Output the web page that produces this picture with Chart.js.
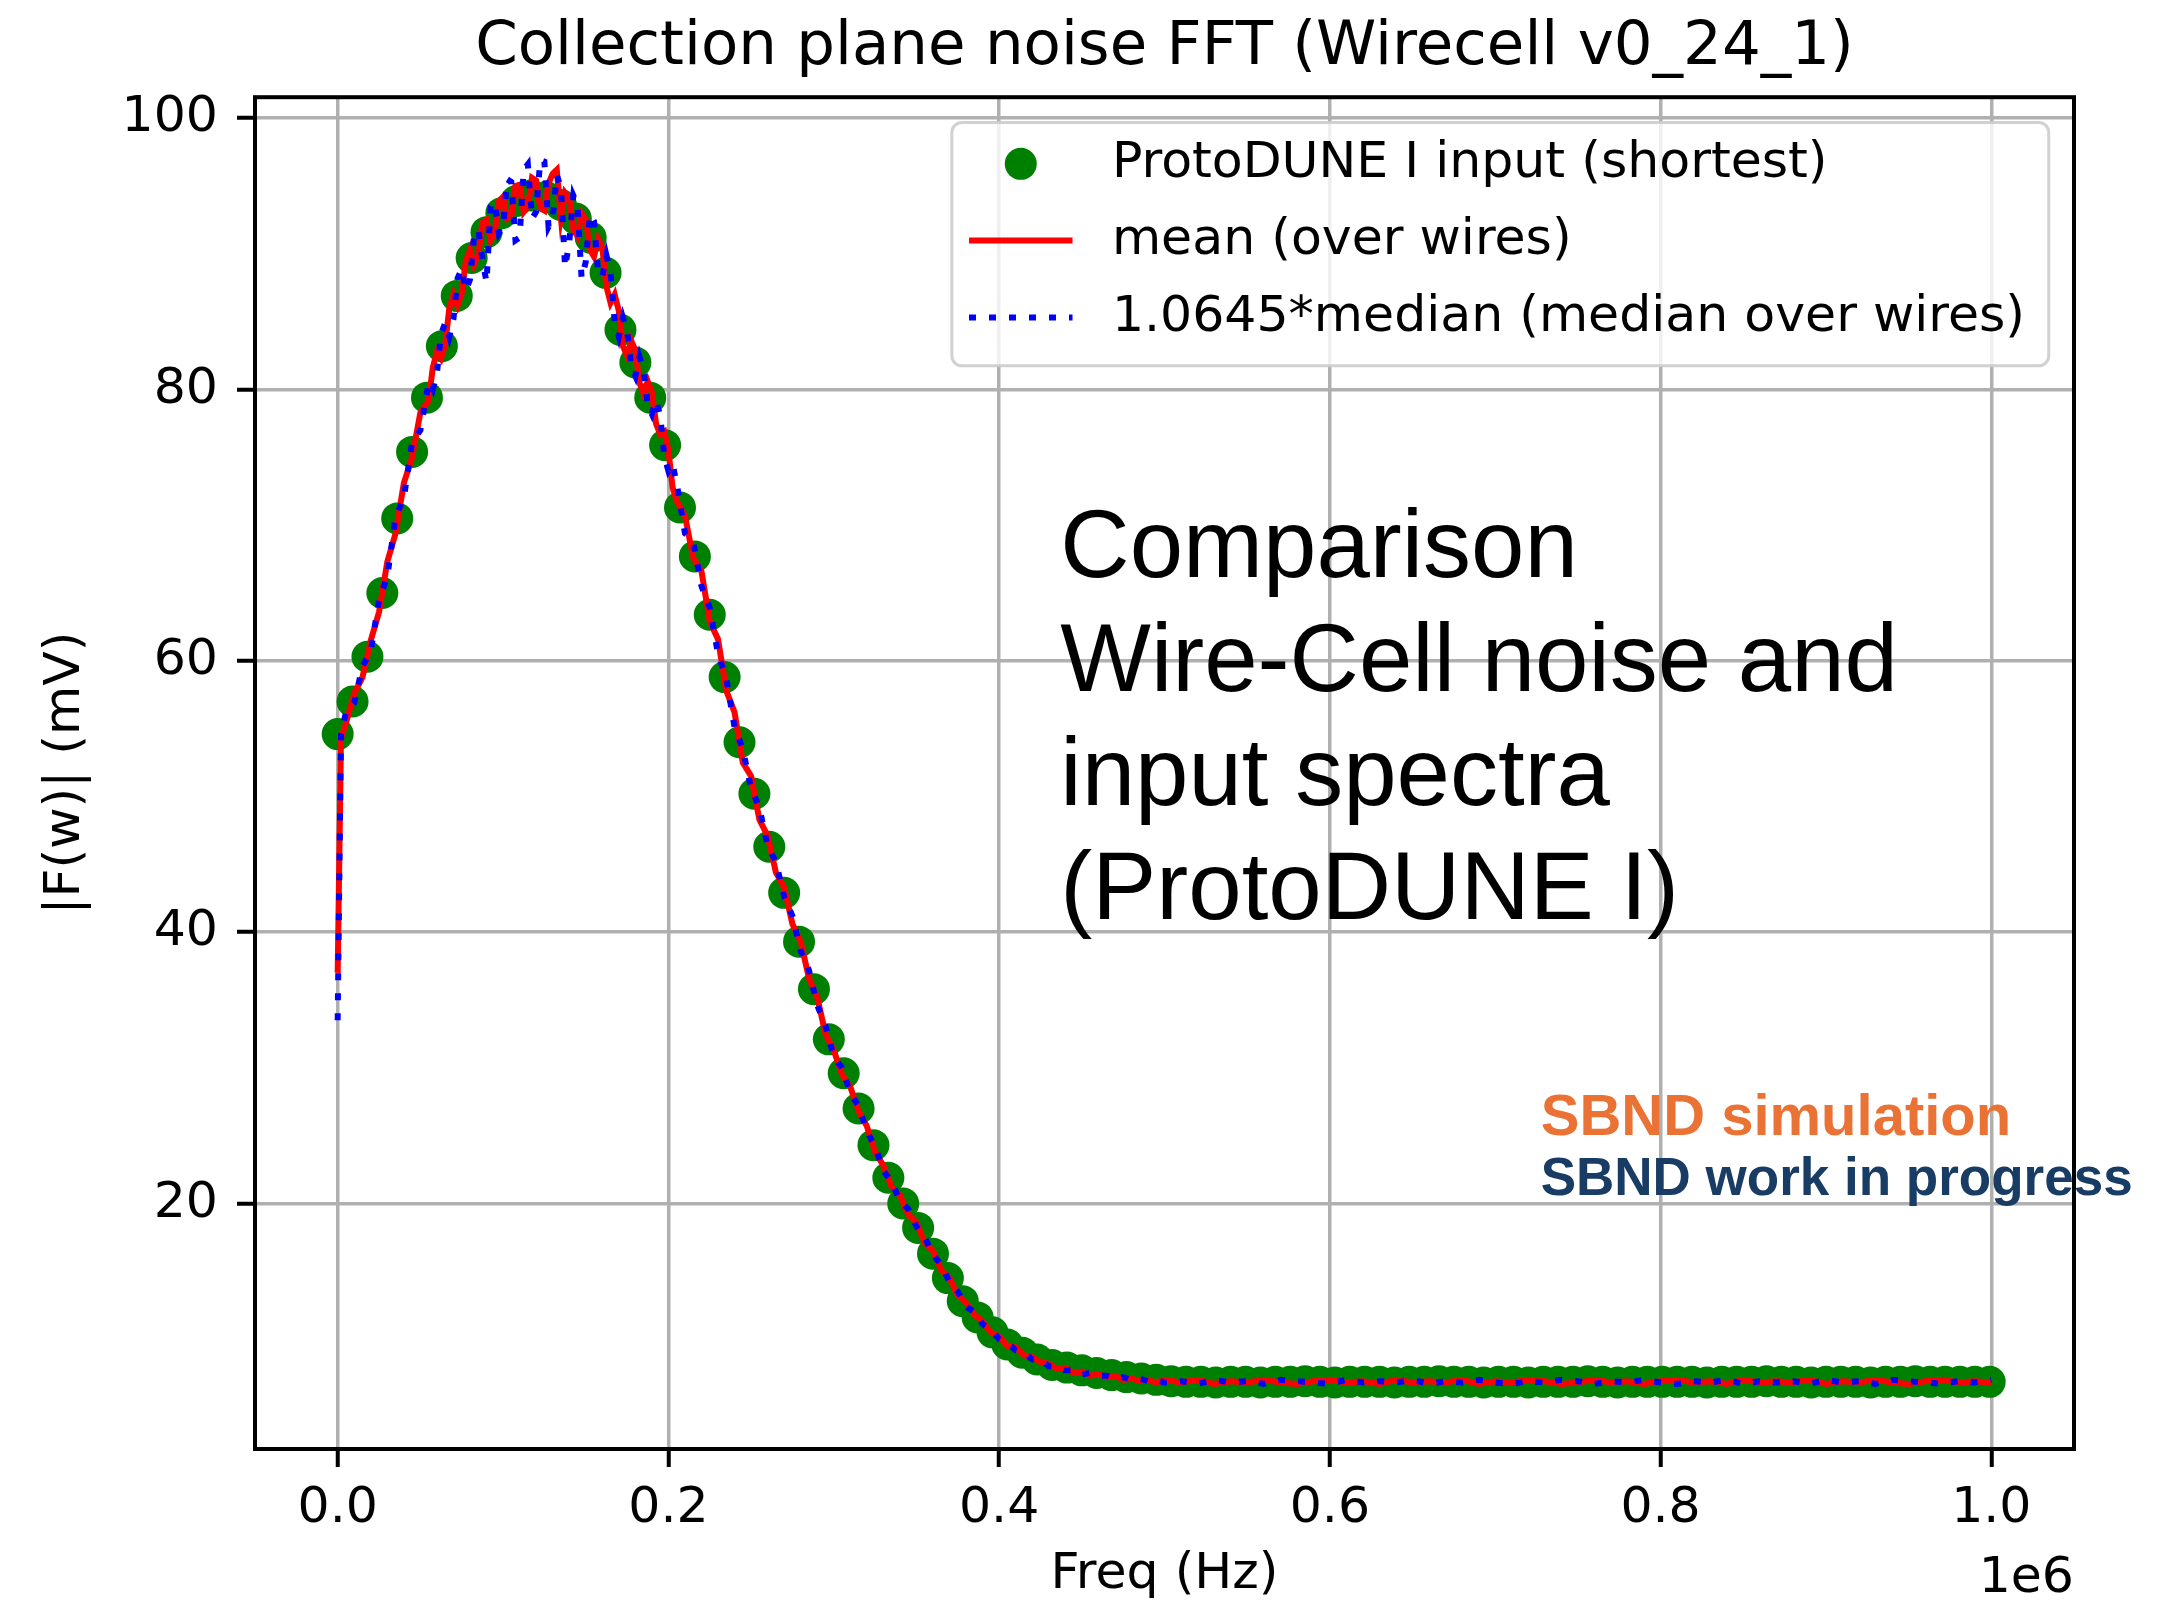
<!DOCTYPE html>
<html lang="en">

<head>
    <meta charset="UTF-8">
    <title>Collection plane noise FFT</title>
    <script src="https://cdn.jsdelivr.net/npm/chart.js"></script>
    <style>
        body {
            margin: 0;
            background: #fff;
        }

        canvas {
            display: block;
        }
    </style>
</head>

<body>
    <canvas id="fftChart" width="2182" height="1605"></canvas>
    <script>
        // Frequencies are in kHz, amplitudes in mV
        const inputFreq = [
            0, 9, 18, 27, 36, 45, 54, 63, 72, 81,
            90, 99, 108, 117, 126, 135, 144, 153, 162, 171,
            180, 189, 198, 207, 216, 225, 234, 243, 252, 261,
            270, 279, 288, 297, 306, 315, 324, 333, 342, 351,
            360, 369, 378, 387, 396, 405, 414, 423, 432, 441,
            450, 459, 468, 477, 486, 495, 504, 513, 522, 531,
            540, 549, 558, 567, 576, 585, 594, 603, 612, 621,
            630, 639, 648, 657, 666, 675, 684, 693, 702, 711,
            720, 729, 738, 747, 756, 765, 774, 783, 792, 801,
            810, 819, 828, 837, 846, 855, 864, 873, 882, 891,
            900, 909, 918, 927, 936, 945, 954, 963, 972, 981,
            990, 999
        ];
        const inputAmp = [
            54.6, 57.0, 60.3, 65.0, 70.5, 75.4, 79.4, 83.2, 86.9, 89.7,
            91.6, 93.0, 93.9, 94.3, 94.2, 93.6, 92.6, 91.2, 88.6, 84.4,
            82.0, 79.4, 75.9, 71.3, 67.7, 63.4, 58.8, 54.0, 50.2, 46.3,
            42.9, 39.3, 35.8, 32.1, 29.6, 27.0, 24.3, 21.9, 20.0, 18.2,
            16.3, 14.5, 12.8, 11.6, 10.5, 9.6, 9.0, 8.5, 8.1, 7.9,
            7.7, 7.5, 7.35, 7.2, 7.1, 7.0, 6.9, 6.85, 6.85, 6.8,
            6.85, 6.85, 6.8, 6.85, 6.85, 6.9, 6.85, 6.8, 6.85, 6.85,
            6.85, 6.8, 6.85, 6.85, 6.9, 6.85, 6.85, 6.8, 6.85, 6.85,
            6.8, 6.85, 6.85, 6.85, 6.9, 6.85, 6.8, 6.85, 6.85, 6.85,
            6.85, 6.85, 6.8, 6.85, 6.85, 6.85, 6.9, 6.85, 6.85, 6.8,
            6.85, 6.85, 6.85, 6.8, 6.85, 6.85, 6.9, 6.85, 6.85, 6.85,
            6.85, 6.85
        ];

        const wireFreq = [
            0, 2, 5, 10, 15, 20, 25, 30, 35, 40, 45, 50,
            55, 57.5, 60, 62.5, 65, 67.5, 70, 72.5, 75, 77.5,
            80, 82.5, 85, 87.5, 90, 92.5, 95, 97.5, 100, 102.5,
            105, 107.5, 110, 112.5, 115, 117.5, 120, 122.5, 125, 127.5,
            130, 132.5, 135, 137.5, 140, 142.5, 145, 147.5, 150, 152.5,
            155, 157.5, 160, 162.5, 165, 167.5, 170, 172.5, 175, 177.5,
            180, 182.5, 185, 187.5, 190, 192.5, 195, 197.5, 200, 202.5,
            205,
            210, 215, 220, 225, 230, 235, 240, 245, 250,
            255, 260, 265, 270, 275, 280, 285, 290, 295, 300,
            305, 310, 315, 320, 325, 330, 335, 340, 345, 350,
            355, 360, 365, 370, 375, 380, 385, 390, 395, 400,
            405, 410, 415, 420, 425, 430, 435, 440, 445, 450,
            455, 460, 465, 470, 475, 480, 485, 490, 495, 500,
            510, 520, 530, 540, 550, 560, 570, 580, 590, 600,
            610, 620, 630, 640, 650, 660, 670, 680, 690, 700,
            710, 720, 730, 740, 750, 760, 770, 780, 790, 800,
            810, 820, 830, 840, 850, 860, 870, 880, 890, 900,
            910, 920, 930, 940, 950, 960, 970, 980, 990, 1000
        ];
        const meanAmp = [
            37.0, 54.3, 55.4, 57.6, 58.8, 61.5, 63.6, 67.3, 69.4, 73.1, 75.0, 78.3,
            79.2, 81.6, 82.8, 82.3, 83.3, 86.0, 87.0, 86.2, 87.1, 89.5,
            90.3, 89.2, 89.9, 92.3, 92.5, 91.0, 91.6, 93.9, 94.2, 92.6,
            92.8, 95.0, 95.1, 93.1, 93.5, 95.6, 95.4, 93.4, 93.2, 95.2,
            95.9, 96.2, 92.7, 94.5, 94.1, 91.8, 91.3, 93.0, 92.6, 90.3,
            89.8, 91.1, 90.5, 87.6, 86.4, 87.0, 85.8, 83.2, 82.5, 83.6,
            82.9, 80.5, 79.7, 80.6, 79.8, 77.5, 76.7, 76.9, 75.5, 72.8,
            71.8,
            70.7, 67.6, 66.6, 62.9, 61.6, 57.8, 56.2, 52.5, 51.5,
            48.3, 47.1, 44.4, 43.3, 40.6, 39.3, 36.6, 35.2, 32.5, 31.3,
            29.5, 28.6, 26.8, 25.7, 23.8, 22.8, 21.2, 20.6, 19.2, 18.6,
            17.1, 16.5, 15.1, 14.5, 13.2, 12.7, 11.8, 11.3, 10.5, 10.2,
            9.5, 9.4, 8.8, 8.7, 8.3, 8.2, 7.8, 7.9, 7.5, 7.6,
            7.3, 7.4, 7.2, 7.3, 7.0, 7.1, 6.9, 7.0, 6.8, 7.0,
            6.8, 7.0, 6.7, 6.9, 6.8, 7.0, 6.8, 6.7, 6.9, 7.0,
            6.8, 6.9, 6.7, 7.0, 6.8, 6.9, 6.8, 7.0, 6.7, 6.9,
            6.8, 7.0, 6.9, 6.7, 6.8, 7.0, 6.8, 6.9, 6.7, 6.9,
            7.0, 6.8, 6.9, 6.7, 7.0, 6.8, 6.9, 6.8, 7.0, 6.7,
            6.9, 6.8, 7.0, 6.8, 6.7, 6.9, 7.0, 6.8, 6.9, 6.8
        ];
        const medianAmp = [
            33.5, 54.6, 56.2, 56.9, 59.6, 60.7, 64.5, 66.2, 70.6, 72.0, 76.1, 77.0,
            80.5, 80.0, 81.2, 84.1, 84.9, 83.9, 85.2, 88.2, 88.9, 87.3,
            88.1, 91.3, 91.8, 89.6, 87.9, 93.5, 93.8, 91.5, 92.0, 95.5,
            95.3, 91.0, 91.2, 96.2, 96.6, 92.6, 93.1, 96.9, 96.8, 92.0,
            92.6, 95.8, 94.9, 89.0, 90.8, 94.3, 93.6, 88.2, 89.4, 92.9,
            92.4, 88.6, 88.3, 89.9, 88.6, 85.0, 83.9, 85.3, 84.3, 81.7,
            81.0, 82.4, 81.4, 78.9, 78.2, 79.2, 78.1, 75.1, 74.0, 74.5,
            73.1,
            69.4, 68.8, 65.5, 63.9, 60.5, 58.7, 55.1, 53.5, 50.6,
            49.2, 46.3, 45.2, 42.6, 41.2, 38.6, 37.2, 34.6, 33.1, 30.8,
            30.0, 28.1, 27.2, 25.3, 24.2, 22.4, 21.6, 20.2, 19.6, 18.3,
            17.5, 16.2, 15.5, 14.2, 13.5, 12.4, 12.0, 11.1, 10.7, 10.0,
            9.7, 9.2, 9.0, 8.5, 8.5, 8.0, 8.0, 7.7, 7.7, 7.4,
            7.5, 7.3, 7.3, 7.1, 7.2, 7.0, 7.1, 6.9, 7.0, 6.8,
            6.9, 6.7, 7.0, 6.8, 6.9, 6.7, 7.0, 6.9, 6.8, 6.7,
            7.0, 6.8, 6.9, 6.8, 7.0, 6.7, 6.9, 6.8, 7.0, 6.8,
            6.7, 6.9, 6.8, 7.0, 6.9, 6.7, 6.9, 6.8, 7.0, 6.8,
            6.7, 6.9, 6.8, 7.0, 6.7, 6.9, 6.8, 6.9, 6.7, 7.0,
            6.8, 6.9, 6.7, 7.0, 6.9, 6.8, 6.7, 6.9, 6.8, 7.0
        ];

        const xTicks = [0, 200000, 400000, 600000, 800000, 1000000];
        const yTicks = [20, 40, 60, 80, 100];

        const legendLabels = [
            'ProtoDUNE I input (shortest)',
            'mean (over wires)',
            '1.0645*median (median over wires)'
        ];
        const noteLines = ['Comparison', 'Wire-Cell noise and', 'input spectra', '(ProtoDUNE I)'];

        const FONT = '"DejaVu Sans"';
        const LABEL_PX = 50.5;

        const toPoints = (freqs, amps) => freqs.map((f, i) => ({ x: f * 1000, y: amps[i] }));

        // frame, offset text, legend and the notes on top of the plot
        const overlay = {
            id: 'overlay',
            afterDraw(chart) {
                const { ctx, chartArea: ca, scales } = chart;
                const sets = chart.data.datasets;
                const f = LABEL_PX;
                ctx.save();

                ctx.strokeStyle = '#000';
                ctx.lineWidth = 4;
                ctx.strokeRect(ca.left, ca.top, ca.right - ca.left, ca.bottom - ca.top);

                ctx.fillStyle = '#000';
                ctx.font = `${f}px ${FONT}`;
                ctx.textAlign = 'right';
                ctx.textBaseline = 'alphabetic';
                ctx.fillText('1e6', ca.right, ca.bottom + 143);

                // legend, upper right
                ctx.textAlign = 'left';
                ctx.textBaseline = 'middle';
                const textW = Math.max(...legendLabels.map(t => ctx.measureText(t).width));
                const boxW = 0.34 * f + 2.05 * f + 0.78 * f + textW + 0.47 * f;
                const boxH = 4.82 * f;
                const bx = ca.right - 0.5 * f - boxW;
                const by = ca.top + 0.5 * f;
                ctx.beginPath();
                ctx.roundRect(bx, by, boxW, boxH, 0.2 * f);
                ctx.fillStyle = 'rgba(255,255,255,0.8)';
                ctx.fill();
                ctx.strokeStyle = 'rgba(204,204,204,0.9)';
                ctx.lineWidth = 3;
                ctx.stroke();

                const hx0 = bx + 0.34 * f;
                const hx1 = hx0 + 2.05 * f;
                legendLabels.forEach((label, i) => {
                    const cy = by + 0.82 * f + i * 1.52 * f;
                    const ds = sets[i];
                    if (i === 0) {
                        ctx.fillStyle = ds.backgroundColor;
                        ctx.beginPath();
                        ctx.arc((hx0 + hx1) / 2, cy, ds.pointRadius, 0, Math.PI * 2);
                        ctx.fill();
                    } else {
                        ctx.strokeStyle = ds.borderColor;
                        ctx.lineWidth = ds.borderWidth;
                        ctx.setLineDash(ds.borderDash || []);
                        ctx.beginPath();
                        ctx.moveTo(hx0, cy);
                        ctx.lineTo(hx1, cy);
                        ctx.stroke();
                        ctx.setLineDash([]);
                    }
                    ctx.fillStyle = '#000';
                    ctx.fillText(label, hx1 + 0.78 * f, cy);
                });

                // comparison note
                ctx.textBaseline = 'alphabetic';
                ctx.fillStyle = '#000';
                ctx.font = '96px "Liberation Sans"';
                const nx = scales.x.getPixelForValue(437000);
                const ny = scales.y.getPixelForValue(66.2);
                noteLines.forEach((line, i) => ctx.fillText(line, nx, ny + i * 114));

                // SBND labels
                const sx = scales.x.getPixelForValue(727500);
                ctx.font = 'bold 58px "Liberation Sans"';
                ctx.fillStyle = '#ea7234';
                ctx.fillText('SBND simulation', sx, scales.y.getPixelForValue(25.05));
                ctx.font = 'bold 53px "Liberation Sans"';
                ctx.fillStyle = '#183c63';
                ctx.fillText('SBND work in progress', sx, scales.y.getPixelForValue(20.6));

                ctx.restore();
            }
        };

        const config = {
            type: 'scatter',
            data: {
                datasets: [
                    {
                        label: legendLabels[0],
                        data: toPoints(inputFreq, inputAmp),
                        backgroundColor: '#008000',
                        borderColor: '#008000',
                        borderWidth: 0,
                        pointRadius: 16,
                        pointHoverRadius: 16,
                        order: 3
                    },
                    {
                        label: legendLabels[1],
                        data: toPoints(wireFreq, meanAmp),
                        showLine: true,
                        borderColor: '#ff0000',
                        backgroundColor: '#ff0000',
                        borderWidth: 6,
                        pointRadius: 0,
                        tension: 0,
                        order: 2
                    },
                    {
                        label: legendLabels[2],
                        data: toPoints(wireFreq, medianAmp),
                        showLine: true,
                        borderColor: '#0000ff',
                        backgroundColor: '#0000ff',
                        borderWidth: 6,
                        borderDash: [7, 13],
                        pointRadius: 0,
                        tension: 0,
                        order: 1
                    }
                ]
            },
            options: {
                responsive: false,
                animation: false,
                devicePixelRatio: 1,
                events: [],
                layout: {
                    padding: { left: 0, right: 108, top: 0, bottom: 0 }
                },
                scales: {
                    x: {
                        type: 'linear',
                        min: -50000,
                        max: 1050000,
                        afterFit: scale => { scale.height = 156; },
                        afterBuildTicks: scale => { scale.ticks = xTicks.map(v => ({ value: v })); },
                        border: { display: false },
                        grid: {
                            color: '#b0b0b0',
                            lineWidth: 3.5,
                            tickLength: 18,
                            tickColor: '#000',
                            tickWidth: 4
                        },
                        ticks: {
                            autoSkip: false,
                            maxRotation: 0,
                            padding: 12,
                            color: '#000',
                            font: { size: LABEL_PX },
                            callback: v => (v / 1e6).toFixed(1)
                        },
                        title: {
                            display: true,
                            text: 'Freq (Hz)',
                            color: '#000',
                            font: { size: LABEL_PX },
                            padding: { top: 0, bottom: 0 }
                        }
                    },
                    y: {
                        type: 'linear',
                        min: 1.9,
                        max: 101.55,
                        afterFit: scale => { scale.width = 255; },
                        afterBuildTicks: scale => { scale.ticks = yTicks.map(v => ({ value: v })); },
                        border: { display: false },
                        grid: {
                            color: '#b0b0b0',
                            lineWidth: 3.5,
                            tickLength: 18,
                            tickColor: '#000',
                            tickWidth: 4
                        },
                        ticks: {
                            autoSkip: false,
                            padding: 19,
                            color: '#000',
                            font: { size: LABEL_PX }
                        },
                        title: {
                            display: true,
                            text: '|F(w)| (mV)',
                            color: '#000',
                            font: { size: LABEL_PX },
                            padding: { top: 36, bottom: 0 }
                        }
                    }
                },
                plugins: {
                    legend: { display: false },
                    tooltip: { enabled: false },
                    title: {
                        display: true,
                        text: 'Collection plane noise FFT (Wirecell v0_24_1)',
                        fullSize: false,
                        color: '#000',
                        font: { size: 61, weight: 'normal' },
                        padding: { top: 12, bottom: 12 }
                    }
                }
            },
            plugins: [overlay]
        };

        Chart.defaults.font.family = FONT;

        const ctx = document.getElementById('fftChart').getContext('2d');
        const fftChart = new Chart(ctx, config);
    </script>
</body>

</html>
